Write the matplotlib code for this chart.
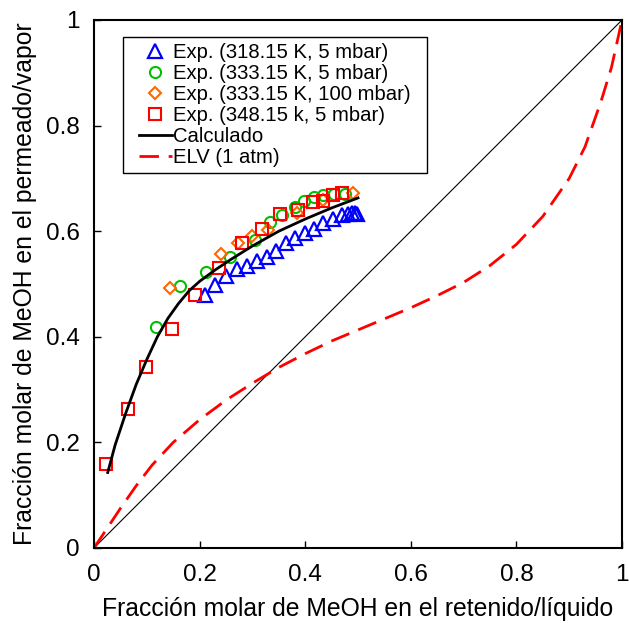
import matplotlib
matplotlib.use('Agg')
import matplotlib.pyplot as plt

plt.rcParams['font.family'] = ['Liberation Sans', 'DejaVu Sans']

# Exp. 318.15 K, 5 mbar
x_318 = [0.210, 0.229, 0.250, 0.270, 0.289, 0.308, 0.327, 0.345, 0.363, 0.381,
         0.400, 0.416, 0.434, 0.452, 0.469, 0.482, 0.488, 0.494, 0.499]
y_318 = [0.480, 0.498, 0.515, 0.528, 0.535, 0.543, 0.552, 0.563, 0.577, 0.587,
         0.596, 0.605, 0.615, 0.623, 0.630, 0.633, 0.634, 0.634, 0.632]

# Exp. 333.15 K, 5 mbar
x_333 = [0.117, 0.163, 0.213, 0.258, 0.305, 0.334, 0.357, 0.380, 0.398, 0.416,
         0.434, 0.455, 0.475]
y_333 = [0.419, 0.496, 0.523, 0.551, 0.583, 0.617, 0.630, 0.645, 0.657, 0.664,
         0.668, 0.670, 0.671]

# Exp. 333.15 K, 100 mbar
x_333b = [0.144, 0.240, 0.273, 0.299, 0.330, 0.384, 0.434, 0.490]
y_333b = [0.492, 0.557, 0.577, 0.591, 0.602, 0.635, 0.660, 0.672]

# Exp. 348.15 k, 5 mbar
x_348 = [0.023, 0.065, 0.098, 0.147, 0.192, 0.237, 0.281, 0.319, 0.352, 0.387,
         0.415, 0.434, 0.453, 0.469]
y_348 = [0.160, 0.263, 0.343, 0.414, 0.480, 0.530, 0.577, 0.605, 0.632, 0.640,
         0.655, 0.658, 0.669, 0.672]

# Calculado
x_calc = [0.026, 0.04, 0.06, 0.08, 0.10, 0.12, 0.14, 0.16, 0.18, 0.20, 0.23,
          0.26, 0.30, 0.35, 0.40, 0.45, 0.50]
y_calc = [0.143, 0.195, 0.255, 0.310, 0.357, 0.400, 0.435, 0.463, 0.487, 0.505,
          0.527, 0.547, 0.572, 0.600, 0.623, 0.644, 0.663]

# ELV (1 atm)
x_elv = [0.0, 0.02, 0.05, 0.08, 0.11, 0.15, 0.20, 0.25, 0.30, 0.35, 0.40, 0.45,
         0.50, 0.55, 0.60, 0.65, 0.70, 0.75, 0.80, 0.85, 0.90, 0.93, 0.96, 0.98, 1.0]
y_elv = [0.0, 0.030, 0.075, 0.118, 0.157, 0.200, 0.243, 0.280, 0.312, 0.342, 0.368,
         0.392, 0.413, 0.434, 0.455, 0.478, 0.503, 0.535, 0.575, 0.628, 0.700,
         0.760, 0.845, 0.910, 1.0]

fig = plt.figure(figsize=(6.29, 6.23), dpi=100)
ax = fig.add_axes([94/629, 1-548/623, 528/629, 528/623])

ax.plot([0, 1], [0, 1], color='black', lw=0.8)
ax.plot(x_318, y_318, ls='none', marker='^', ms=9.5, mfc='none', mec='#0000ff', mew=1.6,
        label='Exp. (318.15 K, 5 mbar)')
ax.plot(x_333, y_333, ls='none', marker='o', ms=8, mfc='none', mec='#00c000', mew=1.5,
        label='Exp. (333.15 K, 5 mbar)')
ax.plot(x_333b, y_333b, ls='none', marker='D', ms=6, mfc='none', mec='#ff6600', mew=1.5,
        label='Exp. (333.15 K, 100 mbar)')
ax.plot(x_348, y_348, ls='none', marker='s', ms=8, mfc='none', mec='#ff0000', mew=1.5,
        label='Exp. (348.15 k, 5 mbar)')
ax.plot(x_calc, y_calc, color='black', lw=2, label='Calculado')
ax.plot(x_elv, y_elv, color='#ff0000', lw=2, dashes=(7, 3.5), label='ELV (1 atm)')

ax.set_xlim(0, 1)
ax.set_ylim(0, 1)
ax.set_xticks([0, 0.2, 0.4, 0.6, 0.8, 1])
ax.set_yticks([0, 0.2, 0.4, 0.6, 0.8, 1])
ax.set_xticklabels(['0', '0.2', '0.4', '0.6', '0.8', '1'])
ax.set_yticklabels(['0', '0.2', '0.4', '0.6', '0.8', '1'])
ax.tick_params(direction='in', length=5, width=1, labelsize=17.5, pad=10)
ax.tick_params(axis='x', pad=11.5)
for s in ax.spines.values():
    s.set_linewidth(1.5)

ax.set_xlabel('Fracción molar de MeOH en el retenido/líquido', fontsize=17.8, labelpad=8)
ax.set_ylabel('Fracción molar de MeOH en el permeado/vapor', fontsize=17.8, labelpad=7)

leg = ax.legend(loc='upper left', bbox_to_anchor=(0.0739, 0.968), borderaxespad=0,
                fontsize=14.6, handlelength=1.6, handletextpad=0.08, labelspacing=0.1,
                borderpad=0.3, fancybox=False, edgecolor='black', framealpha=1)
frame = leg.get_frame()
frame.set_linewidth(1)
# wider frame sideways only
frame.set_boxstyle('square', pad=0.5)
frame.set_mutation_aspect(0.001)

fig.savefig('out.png', dpi=100)
